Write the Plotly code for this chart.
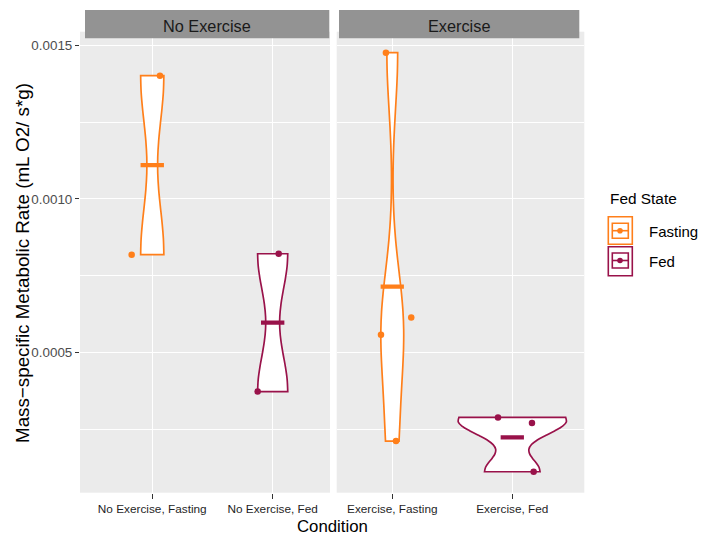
import numpy as np
import plotly.graph_objects as go

# Mass-specific metabolic rate (mL O2 / s*g) per animal, by condition
conditions = ["No Exercise, Fasting", "No Exercise, Fed", "Exercise, Fasting", "Exercise, Fed"]
panel_names = ["No Exercise", "Exercise"]
fed_state = ["Fasting", "Fed", "Fasting", "Fed"]
no_ex_fasting = [0.001401, 0.000818]
no_ex_fed = [0.000821, 0.000372]
ex_fasting = [0.001476, 0.000557, 0.000613, 0.000211]
ex_fed = [0.000288, 0.000270, 0.000111]
y_ticks = [0.0005, 0.0010, 0.0015]
y_tick_labels = ["0.0005", "0.0010", "0.0015"]
y_minor = [0.00025, 0.00075, 0.00125]
legend_labels = ["Fasting", "Fed"]

groups = [no_ex_fasting, no_ex_fed, ex_fasting, ex_fed]
panel_of = [0, 0, 1, 1]
slot_of = [0, 1, 0, 1]
# horizontal jitter of the raw points (category units)
jitter = [[0.064, -0.171], [0.050, -0.125], [-0.053, -0.094, 0.158, 0.031], [-0.119, 0.164, 0.178]]

colors = {"Fasting": "#FF7F1A", "Fed": "#99124A"}
W, H = 708, 535
FONT = "Liberation Sans, Arial, Helvetica, sans-serif"


def px(x):
    return x / W


def py(y):
    return 1 - y / H


def nrd0(v):
    v = np.asarray(v, float)
    sd = np.std(v, ddof=1)
    q75, q25 = np.percentile(v, [75, 25])
    lo = min(sd, (q75 - q25) / 1.34)
    return 0.9 * lo * len(v) ** -0.2


def kde_peak(v, bw):
    v = np.asarray(v, float)
    grid = np.linspace(v.min(), v.max(), 512)
    dens = np.exp(-0.5 * ((grid[:, None] - v[None, :]) / bw) ** 2).sum(axis=1)
    dens /= len(v) * bw * np.sqrt(2 * np.pi)
    return dens.max()


bws = [nrd0(g) for g in groups]
peaks = [kde_peak(g, b) for g, b in zip(groups, bws)]
widths = [0.9 * p / max(peaks) for p in peaks]

all_vals = np.concatenate([np.asarray(g) for g in groups])
lo, hi = all_vals.min(), all_vals.max()
span = hi - lo
y_range = [lo - 0.05 * span, hi + 0.05 * span]

fig = go.Figure()
for i, vals in enumerate(groups):
    xa = "x" if panel_of[i] == 0 else "x2"
    ya = "y" if panel_of[i] == 0 else "y2"
    c = colors[fed_state[i]]
    pos = slot_of[i]
    fig.add_trace(go.Violin(
        x0=pos, y=vals, bandwidth=bws[i], spanmode="hard", scalemode="width",
        width=widths[i], line=dict(color=c, width=1.7), fillcolor="white",
        points=False, box_visible=False, meanline_visible=False,
        showlegend=False, hoverinfo="skip", xaxis=xa, yaxis=ya,
    ))
    fig.add_trace(go.Scatter(
        x=[pos + j for j in jitter[i]], y=vals, mode="markers",
        marker=dict(color=c, size=6.5), showlegend=False, hoverinfo="skip",
        xaxis=xa, yaxis=ya,
    ))
    m = float(np.mean(vals))
    fig.add_trace(go.Scatter(
        x=[pos - 0.097, pos + 0.097], y=[m, m], mode="lines",
        line=dict(color=c, width=4.2), showlegend=False, hoverinfo="skip",
        xaxis=xa, yaxis=ya,
    ))

panel_px = [(80, 330), (336.7, 584.3)]
x_ranges = [[-0.600, 1.476], [-0.463, 1.600]]
y_dom = [py(492.7), py(31.7)]

xcommon = dict(
    type="linear", tickmode="array", tickvals=[0, 1], showgrid=True,
    gridcolor="white", gridwidth=1.2, zeroline=False, showline=False,
    ticks="outside", ticklen=5, tickwidth=1, tickcolor="#333333",
    tickfont=dict(family=FONT, size=11.8, color="#1F1F1F"),
    fixedrange=True,
)
ycommon = dict(
    type="linear", range=y_range, domain=y_dom, tickmode="array",
    tickvals=y_ticks, ticktext=y_tick_labels, showgrid=True, gridcolor="white",
    gridwidth=1.2, zeroline=False, showline=False,
    minor=dict(tickvals=y_minor, showgrid=True, gridcolor="white", gridwidth=0.6, ticks=""),
    fixedrange=True,
)

fig.update_layout(
    width=W, height=H, margin=dict(l=0, r=0, t=0, b=0),
    paper_bgcolor="white", plot_bgcolor="#EBEBEB", violinmode="overlay",
    showlegend=False,
    xaxis=dict(xcommon, domain=[px(panel_px[0][0]), px(panel_px[0][1])],
               range=x_ranges[0], ticktext=conditions[:2], anchor="y"),
    xaxis2=dict(xcommon, domain=[px(panel_px[1][0]), px(panel_px[1][1])],
                range=x_ranges[1], ticktext=conditions[2:], anchor="y2"),
    yaxis=dict(ycommon, anchor="x", ticks="outside", ticklen=4, tickwidth=1,
               tickcolor="#333333", tickfont=dict(family=FONT, size=13.4, color="#4D4D4D")),
    yaxis2=dict(ycommon, anchor="x2", matches="y", showticklabels=False, ticks=""),
)

shapes = []
annotations = []
# facet strips
strip_px = [(85, 329.3), (339, 579.3)]
for (x0, x1), name in zip(strip_px, panel_names):
    shapes.append(dict(type="rect", xref="paper", yref="paper", x0=px(x0), x1=px(x1),
                       y0=py(38.3), y1=py(10), fillcolor="#939393", line=dict(width=0),
                       layer="above"))
    annotations.append(dict(text=name, xref="paper", yref="paper", x=px((x0 + x1) / 2),
                            y=py(25.5), showarrow=False, xanchor="center", yanchor="middle",
                            font=dict(family=FONT, size=16.3, color="#1A1A1A")))

# axis titles
annotations.append(dict(text="Mass\u2212specific Metabolic Rate (mL O2/ s*g)", xref="paper",
                        yref="paper", x=px(22), y=py(263), textangle=-90, showarrow=False,
                        xanchor="center", yanchor="middle",
                        font=dict(family=FONT, size=18.8, color="#000000")))
annotations.append(dict(text="Condition", xref="paper", yref="paper", x=px(332), y=py(526),
                        showarrow=False, xanchor="center", yanchor="middle",
                        font=dict(family=FONT, size=16.8, color="#000000")))

# legend
annotations.append(dict(text="Fed State", xref="paper", yref="paper", x=px(608), y=py(198),
                        showarrow=False, xanchor="left", yanchor="middle",
                        font=dict(family=FONT, size=15.4, color="#000000")))
key_rows = [(216.7, 244.3, 230.7), (246.7, 275.7, 260.5)]
for (top, bot, mid), lab in zip(key_rows, legend_labels):
    c = colors[lab]
    shapes.append(dict(type="rect", xref="paper", yref="paper", x0=px(608.3), x1=px(632.3),
                       y0=py(bot), y1=py(top), fillcolor="white", line=dict(color=c, width=1.6)))
    shapes.append(dict(type="rect", xref="paper", yref="paper", x0=px(612.3), x1=px(628.3),
                       y0=py(mid + 7.5), y1=py(mid - 7.5), fillcolor="rgba(0,0,0,0)",
                       line=dict(color=c, width=1.6)))
    shapes.append(dict(type="line", xref="paper", yref="paper", x0=px(612.3), x1=px(628.3),
                       y0=py(mid), y1=py(mid), line=dict(color=c, width=1.6)))
    shapes.append(dict(type="circle", xref="paper", yref="paper", x0=px(617.2), x1=px(622.8),
                       y0=py(mid + 2.8), y1=py(mid - 2.8), fillcolor=c, line=dict(color=c, width=0)))
    annotations.append(dict(text=lab, xref="paper", yref="paper", x=px(647), y=py(mid + 1),
                            showarrow=False, xanchor="left", yanchor="middle",
                            font=dict(family=FONT, size=15, color="#000000")))

fig.update_layout(shapes=shapes, annotations=annotations)
fig.write_html("out.html")
